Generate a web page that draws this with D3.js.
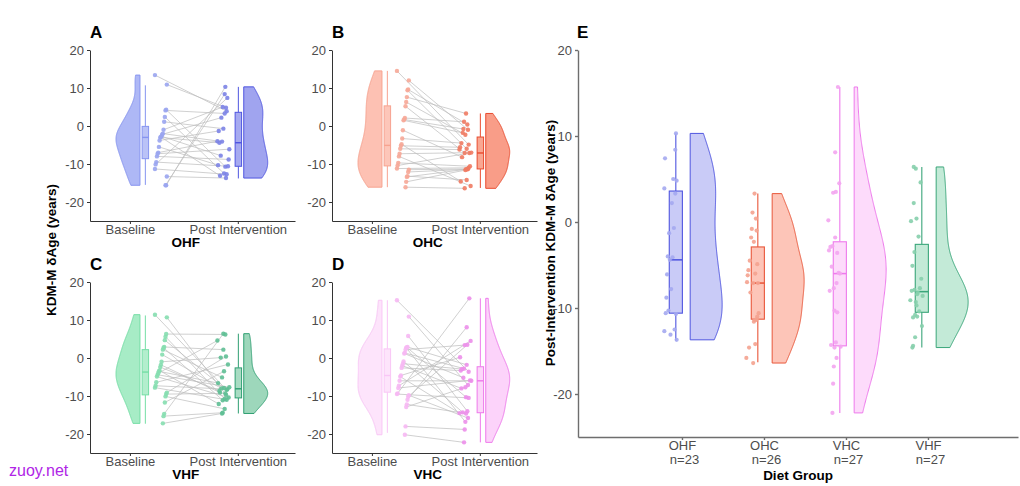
<!DOCTYPE html>
<html><head><meta charset="utf-8">
<script src="https://cdn.jsdelivr.net/npm/d3@7"></script>
<style>
body{margin:0;background:#fff;}
svg{display:block;font-family:"Liberation Sans",Arial,sans-serif;}
</style></head><body>
<svg id="chart" width="1020" height="486"></svg>
<script>
// ---------------- DATA ----------------
const yTicks = [-20, -10, 0, 10, 20];
const timeLabels = ["Baseline", "Post Intervention"];
const eGroups = ["OHF", "OHC", "VHC", "VHF"];
const eN = ["n=23", "n=26", "n=27", "n=27"];

// paired values (index i: same participant)
const ohfBaseline = [13.4,10.9,4.3,4.1,2.4,1.1,-1.0,-2.0,-2.2,-2.7,-2.9,-3.0,-3.8,-5.5,-7.0,-7.3,-8.0,-9.5,-10.1,-11.3,-13.3,-15.6,-15.6];
const ohfPost     = [3.9,4.8,-10.7,3.3,-12.5,-0.7,5.0,-4.1,2.2,-7.8,-13.1,-4.4,-1.3,-10.3,-4.0,-6.1,-8.8,-10.6,7.4,-12.7,-13.7,10.3,8.4];

const ohcBaseline = [14.5,12.0,9.6,9.4,7.6,6.3,5.2,2.1,1.7,1.5,-1.1,-3.3,-4.8,-5.2,-6.0,-7.3,-8.0,-9.7,-10.4,-11.2,-11.5,-12.1,-13.2,-13.4,-14.7,-16.1];
const ohcPost     = [-4.9,-1.0,0.4,-6.0,3.3,-2.3,-7.1,1.1,-0.8,-1.8,-8.2,-4.5,-14.6,-5.6,-6.2,-7.0,-15.8,-10.6,-7.1,-11.0,-11.3,-11.4,-14.2,-11.4,-11.6,-16.4];

const vhfBaseline = [11.4,10.7,6.3,5.6,4.7,2.9,2.7,2.2,0.9,-1.0,-1.8,-2.4,-3.3,-3.5,-4.0,-4.4,-4.9,-6.4,-7.3,-7.8,-9.1,-9.5,-10.1,-11.7,-14.7,-15.3,-17.2];
const vhfPost     = [-8.4,-9.7,6.2,-10.8,-7.9,2.2,-11.1,-5.1,-8.0,0.1,-9.1,-8.6,-12.1,-6.6,4.6,-7.7,-10.4,-1.7,-8.2,-11.0,0.4,-9.3,-13.4,-3.5,6.4,-14.4,-14.6];

const vhcBaseline = [15.2,10.9,5.8,2.9,2.8,2.7,2.2,1.3,1.2,-0.9,-1.5,-2.0,-2.6,-4.6,-4.9,-6.0,-7.3,-7.9,-9.3,-9.5,-9.8,-10.2,-11.0,-12.2,-12.9,-18.0,-20.2];
const vhcPost     = [-3.6,-7.1,-14.0,-1.8,-10.3,-16.8,3.4,-2.8,-5.2,-14.3,-2.9,-8.0,-3.3,0.2,-14.5,-6.0,4.5,-5.9,15.7,-10.5,-15.8,3.5,8.1,-14.6,-7.7,-18.8,-22.2];

// box statistics: [lower whisker, Q1, median, Q3, upper whisker]
const ohfBaseBox = [-15.5,-8.6,-3.0,-0.1,10.7];
const ohfPostBox = [-13.8,-10.6,-4.4,3.6,10.3];
const ohcBaseBox = [-16.1,-10.5,-5.1,5.3,14.5];
const ohcPostBox = [-16.3,-11.3,-7.1,-2.9,3.3];
const vhfBaseBox = [-17.3,-9.7,-3.7,2.2,11.2];
const vhfPostBox = [-14.6,-10.5,-8.1,-2.6,6.4];
const vhcBaseBox = [-19.7,-9.0,-4.6,2.4,15.2];
const vhcPostBox = [-22.2,-14.4,-6.0,-2.3,15.7];

// ---------------- STYLE ----------------
const colors = {
  OHF: {baseFill:"#aeb8f6", baseStroke:"#8694f0", basePt:"#9aa5ef", baseBoxFill:"#bac2f7",
        postFill:"#a0a4ef", postStroke:"#4f55e0", postPt:"#7c83e6", postBoxFill:"#a6aaf0",
        eFill:"#c9cbf7", eStroke:"#4f55e0", ePt:"#a4a8f0"},
  OHC: {baseFill:"#fdc1b3", baseStroke:"#f7a390", basePt:"#f6a898", baseBoxFill:"#fdc6b9",
        postFill:"#f99d88", postStroke:"#e94b2e", postPt:"#ef7b63", postBoxFill:"#f9a792",
        eFill:"#fdc5b8", eStroke:"#e9573a", ePt:"#f4a28f"},
  VHF: {baseFill:"#a7ecc6", baseStroke:"#74dea5", basePt:"#86deb0", baseBoxFill:"#b3eecd",
        postFill:"#9dd7bb", postStroke:"#2f9f72", postPt:"#5fbf95", postBoxFill:"#a8dcc3",
        eFill:"#c3ead7", eStroke:"#3aa67a", ePt:"#86cfac"},
  VHC: {baseFill:"#fde4fb", baseStroke:"#f9c6f6", basePt:"#f6b8f3", baseBoxFill:"#fde4fb",
        postFill:"#fcd3fa", postStroke:"#ee79eb", postPt:"#ec8fea", postBoxFill:"#fcd6fa",
        eFill:"#fddbfb", eStroke:"#ee7aec", ePt:"#f3a5f0"}
};

const svg = d3.select("#chart");
const tickColor = "#4d4d4d";

function jit(i){ return ((i*37) % 19)/18 - 0.5; }

function kde(values, n=300){
  const s = values.slice().sort(d3.ascending);
  const sd = d3.deviation(s);
  const iqr = d3.quantileSorted(s,0.75) - d3.quantileSorted(s,0.25);
  const lo = Math.min(sd, iqr/1.34);
  const bw = 0.9*lo*Math.pow(s.length,-0.2);
  const mn = s[0], mx = s[s.length-1];
  const pts = d3.range(n).map(i=>{
    const v = mn + (mx-mn)*i/(n-1);
    return [v, d3.sum(s, d=>Math.exp(-0.5*((v-d)/bw)**2))];
  });
  const m = d3.max(pts, p=>p[1]);
  return pts.map(p=>[p[0], p[1]/m]);
}

function drawViolin(g, x, y, edge, width, dir, data, fill, stroke){
  const dens = kde(data);
  const pts = dens.map(([v,d])=>[x(edge + dir*d*width), y(v)]);
  const first = dens[0][0], last = dens[dens.length-1][0];
  const all = [[x(edge), y(first)], ...pts, [x(edge), y(last)]];
  g.append("path")
    .attr("d", d3.line()(all) + "Z")
    .attr("fill", fill).attr("stroke", stroke).attr("stroke-width", 1);
}

function drawBox(g, x, y, center, half, stats, fill, stroke, sw){
  const [lw,q1,med,q3,uw] = stats;
  g.append("line").attr("x1",x(center)).attr("x2",x(center)).attr("y1",y(q3)).attr("y2",y(uw))
    .attr("stroke",stroke).attr("stroke-width",sw);
  g.append("line").attr("x1",x(center)).attr("x2",x(center)).attr("y1",y(q1)).attr("y2",y(lw))
    .attr("stroke",stroke).attr("stroke-width",sw);
  g.append("rect").attr("x",x(center-half)).attr("width",x(center+half)-x(center-half))
    .attr("y",y(q3)).attr("height",y(q1)-y(q3))
    .attr("fill",fill).attr("stroke",stroke).attr("stroke-width",sw);
  g.append("line").attr("x1",x(center-half)).attr("x2",x(center+half)).attr("y1",y(med)).attr("y2",y(med))
    .attr("stroke",stroke).attr("stroke-width",sw*1.4);
}

function styleAxis(sel, color, width){
  sel.select(".domain").attr("stroke", color).attr("stroke-width", width);
  sel.selectAll(".tick line").attr("stroke", color).attr("stroke-width", width);
  sel.selectAll(".tick text").attr("fill", tickColor).attr("font-size", 13)
     .attr("font-family", '"Liberation Sans",Arial,sans-serif');
}

// ---------------- SMALL PANELS ----------------
const panels = [
  {letter:"A", name:"OHF", base:ohfBaseline, post:ohfPost, bb:ohfBaseBox, pb:ohfPostBox, x0:90,  yTop:50,  yBot:221},
  {letter:"B", name:"OHC", base:ohcBaseline, post:ohcPost, bb:ohcBaseBox, pb:ohcPostBox, x0:332, yTop:50,  yBot:221},
  {letter:"C", name:"VHF", base:vhfBaseline, post:vhfPost, bb:vhfBaseBox, pb:vhfPostBox, x0:90,  yTop:282, yBot:453},
  {letter:"D", name:"VHC", base:vhcBaseline, post:vhcPost, bb:vhcBaseBox, pb:vhcPostBox, x0:332, yTop:282, yBot:453}
];

panels.forEach(p=>{
  const c = colors[p.name];
  const x = d3.scaleLinear().domain([0.63, 2.53]).range([p.x0, p.x0+205]);
  const y = d3.scaleLinear().domain([-25, 20]).range([p.yBot, p.yBot - 171]);
  const g = svg.append("g");

  // violins
  drawViolin(g, x, y, 1.093, 0.222, -1, p.base, c.baseFill, c.baseStroke);
  drawViolin(g, x, y, 2.055, 0.222, 1, p.post, c.postFill, c.postStroke);
  // boxes
  drawBox(g, x, y, 1.143, 0.03, p.bb, c.baseBoxFill, c.baseStroke, 1);
  drawBox(g, x, y, 2.005, 0.03, p.pb, c.postBoxFill, c.postStroke, 1);

  // paired lines
  const bx = i => x(1.287 + 0.11*jit(i));
  const px = i => x(1.866 + 0.11*jit(i+5));
  g.append("g").selectAll("line").data(p.base).join("line")
    .attr("x1",(d,i)=>bx(i)).attr("y1",d=>y(d))
    .attr("x2",(d,i)=>px(i)).attr("y2",(d,i)=>y(p.post[i]))
    .attr("stroke","#bdbdbd").attr("stroke-width",0.9).attr("stroke-opacity",0.8);
  g.append("g").selectAll("circle").data(p.base).join("circle")
    .attr("cx",(d,i)=>bx(i)).attr("cy",d=>y(d)).attr("r",2.2).attr("fill",c.basePt).attr("fill-opacity",0.9);
  g.append("g").selectAll("circle").data(p.post).join("circle")
    .attr("cx",(d,i)=>px(i)).attr("cy",d=>y(d)).attr("r",2.2).attr("fill",c.postPt).attr("fill-opacity",0.9);

  // axes
  const ya = g.append("g").attr("transform",`translate(${p.x0},0)`)
    .call(d3.axisLeft(y).tickValues(yTicks).tickSize(3).tickSizeOuter(0).tickFormat(d=>String(d)));
  styleAxis(ya, "#333", 1);
  const xa = g.append("g").attr("transform",`translate(0,${p.yBot})`)
    .call(d3.axisBottom(x).tickValues([1,2]).tickSize(3).tickSizeOuter(0).tickFormat((d,i)=>timeLabels[i]));
  styleAxis(xa, "#333", 1);
  xa.selectAll(".tick text").attr("y", 3.5);

  g.append("text").attr("x", x(1.5)+2).attr("y", p.yBot+26).attr("text-anchor","middle")
    .attr("font-weight","bold").attr("font-size",13.5).attr("fill","#000").text(p.name);
  g.append("text").attr("x", p.x0).attr("y", p.yTop-12).attr("font-weight","bold")
    .attr("font-size",17).attr("fill","#000").text(p.letter);
});

// left shared y title
svg.append("text").attr("transform","translate(56,250) rotate(-90)").attr("text-anchor","middle")
  .attr("font-weight","bold").attr("font-size",13.5).attr("fill","#000").text("KDM-M δAge (years)");

// ---------------- PANEL E ----------------
{
  const eData = [ohfPost, ohcPost, vhcPost, vhfPost];
  const eBox = [ohfPostBox, ohcPostBox, vhcPostBox, vhfPostBox];
  const eKeys = ["OHF","OHC","VHC","VHF"];
  const x = d3.scaleLinear().domain([-0.268, 5.098]).range([578, 1018]);
  const y = d3.scaleLinear().domain([-25, 20]).range([437, 50]);
  const g = svg.append("g");

  eGroups.forEach((grp, k)=>{
    const c = colors[eKeys[k]];
    const cx = k+1;
    drawViolin(g, x, y, cx+0.10, 0.39, 1, eData[k], c.eFill, c.eStroke);
    drawBox(g, x, y, cx-0.075, 0.08, eBox[k], c.eFill, c.eStroke, 1.1);
    g.append("g").selectAll("circle").data(eData[k]).join("circle")
      .attr("cx",(d,i)=>x(cx - 0.14 + 0.15*jit(i+3*k)))
      .attr("cy",d=>y(d)).attr("r",2.1).attr("fill",c.ePt).attr("fill-opacity",0.9);
  });

  const ya = g.append("g").attr("transform","translate(578,0)")
    .call(d3.axisLeft(y).tickValues(yTicks).tickSize(3).tickSizeOuter(0).tickFormat(d=>String(d)));
  styleAxis(ya, "#6e6e6e", 1.4);
  const xa = g.append("g").attr("transform","translate(0,437)")
    .call(d3.axisBottom(x).tickValues([1,2,3,4]).tickSize(3).tickSizeOuter(0).tickFormat((d,i)=>eGroups[i]));
  styleAxis(xa, "#6e6e6e", 1.4);
  xa.selectAll(".tick text").attr("y", 3.5);
  xa.selectAll(".tick").append("text").attr("y", 18).attr("dy","0.71em").attr("x",2)
    .attr("text-anchor","middle").attr("fill",tickColor).attr("font-size",13)
    .text((d,i)=>eN[i]);

  g.append("text").attr("x", 798).attr("y", 480).attr("text-anchor","middle")
    .attr("font-weight","bold").attr("font-size",13.5).attr("fill","#000").text("Diet Group");
  g.append("text").attr("transform","translate(555,243) rotate(-90)").attr("text-anchor","middle")
    .attr("font-weight","bold").attr("font-size",13.5).attr("fill","#000")
    .text("Post-Intervention KDM-M δAge (years)");
  g.append("text").attr("x", 577).attr("y", 38).attr("font-weight","bold")
    .attr("font-size",17).attr("fill","#000").text("E");
}

// watermark
svg.append("text").attr("x", 9).attr("y", 476).attr("font-size",16).attr("fill","#b025e6").text("zuoy.net");
</script>
</body></html>
